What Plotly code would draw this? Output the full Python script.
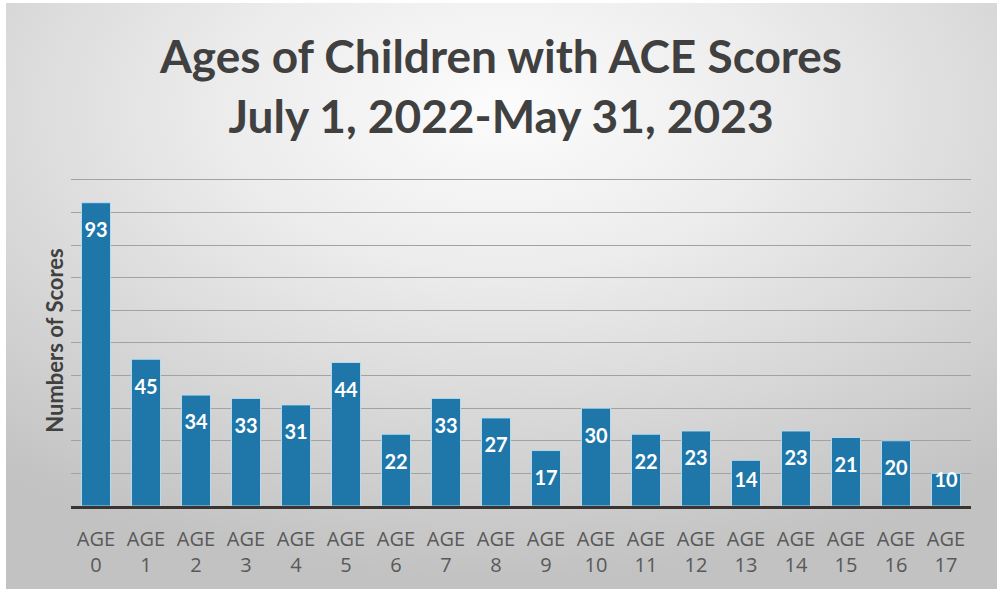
import base64
import plotly.graph_objects as go

# ---- data ----
ages = list(range(18))
tick_labels = [f"AGE<br>{a}" for a in ages]
scores = [93, 45, 34, 33, 31, 44, 22, 33, 27, 17, 30, 22, 23, 14, 23, 21, 20, 10]

title_text = "Ages of Children with ACE Scores<br>July 1, 2022-May 31, 2023"
y_title = "Numbers of Scores"

# ---- layout geometry ----
W, H = 997, 592
Y_MAX = 101.5
ML, MR, MB = 71, 26, 86
PH = round(326 * Y_MAX / 100)
MT = H - MB - PH
PW = W - ML - MR

def px_x(px):
    return (px - ML) / PW

def px_y(py):
    return (H - MB - py) / PH

# gradient background as svg
svg = (
    '<svg xmlns="http://www.w3.org/2000/svg" width="991" height="586" viewBox="0 0 991 586" preserveAspectRatio="none">'
    '<defs><radialGradient id="g" cx="0.5" cy="0.18" r="0.8" gradientUnits="objectBoundingBox">'
    '<stop offset="0" stop-color="#fcfcfc"/><stop offset="0.35" stop-color="#ececec"/>'
    '<stop offset="1" stop-color="#c2c2c2"/></radialGradient></defs>'
    '<rect x="0" y="0" width="991" height="586" fill="url(#g)"/></svg>'
)
bg_src = "data:image/svg+xml;base64," + base64.b64encode(svg.encode()).decode()

# label positions: inside near the top of each bar
label_y = [max(v - 9.0, 7.4) for v in scores]

fig = go.Figure()
fig.add_trace(go.Bar(
    x=ages, y=scores,
    marker=dict(color="#1f76a8", line=dict(color="rgba(185,225,245,0.9)", width=1)),
    hoverinfo="x+y",
))
fig.add_trace(go.Scatter(
    x=ages, y=label_y, mode="text",
    text=[str(v) for v in scores],
    textfont=dict(family="Lato", size=20, color="white", weight="bold"),
    hoverinfo="skip",
))

fig.update_layout(
    width=W, height=H,
    margin=dict(l=ML, r=MR, t=MT, b=MB),
    paper_bgcolor="white",
    plot_bgcolor="rgba(0,0,0,0)",
    showlegend=False,
    bargap=0.42,
    title=dict(
        text=title_text,
        x=501 / W, xanchor="center", xref="container",
        y=1 - 73 / H, yanchor="middle", yref="container",
        font=dict(family="Lato", size=46, color="#404040", weight="bold"),
    ),
    xaxis=dict(
        range=[-0.5, 17.5],
        tickvals=ages, ticktext=tick_labels,
        tickfont=dict(family="Open Sans", size=20, color="#595959"),
        showgrid=False, zeroline=False,
        showline=True, linecolor="#3a3532", linewidth=3,
        ticks="", ticklabelstandoff=13,
    ),
    yaxis=dict(
        range=[0, Y_MAX], dtick=10,
        showticklabels=False,
        showgrid=True, gridcolor="#a2a2a2", gridwidth=1,
        zeroline=False,
        title=dict(text=y_title, standoff=0,
                   font=dict(family="Lato", size=22, color="#404040", weight="bold")),
    ),
    images=[dict(
        source=bg_src, xref="paper", yref="paper",
        x=px_x(6), y=px_y(3), sizex=991 / PW, sizey=586 / PH,
        xanchor="left", yanchor="top", sizing="stretch", layer="below",
    )],
)

fig.write_html("out.html")
